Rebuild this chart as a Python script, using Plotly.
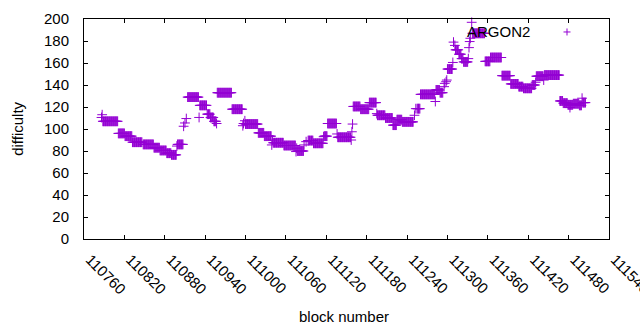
import plotly.graph_objects as go

# Runs of consecutive blocks sharing one difficulty value
run_start = [110788, 110811, 110821, 110832, 110848, 110864, 110873, 110883, 110890, 110899,
             110914, 110932, 110943, 110948, 110953, 110958, 110980, 111000, 111019, 111028,
             111041, 111057, 111077, 111093, 111101, 111117, 111122, 111137, 111160, 111171,
             111184, 111196, 111208, 111219, 111225, 111233, 111255, 111260, 111283, 111289,
             111300, 111312, 111317, 111321, 111324, 111337, 111356, 111364, 111381, 111394,
             111406, 111413, 111426, 111432, 111444, 111467, 111472, 111479, 111487, 111496,
             111501]
run_end = [110810, 110820, 110831, 110845, 110863, 110872, 110882, 110889, 110897, 110907,
           110930, 110942, 110947, 110952, 110956, 110979, 110995, 111018, 111027, 111038,
           111056, 111074, 111086, 111100, 111115, 111121, 111135, 111156, 111170, 111183,
           111194, 111207, 111218, 111224, 111232, 111249, 111259, 111281, 111288, 111293,
           111307, 111316, 111320, 111323, 111330, 111355, 111363, 111380, 111393, 111405,
           111412, 111425, 111430, 111442, 111466, 111471, 111478, 111486, 111495, 111499,
           111505]
run_value = [107, 96, 93.5, 88, 86, 83, 80.5, 78, 76.5, 86,
             129, 121.5, 113.5, 110.5, 107, 133, 118, 104.5, 96.5, 93.5,
             87.5, 85, 80, 89.5, 87, 93.5, 105, 92.5, 120.5, 118,
             124, 112.5, 110, 103.5, 108.5, 106.5, 118.5, 131.5, 135.5, 133,
             154.5, 172, 168, 164, 161, 187, 161.5, 165, 148.5, 141,
             138.5, 137, 140, 148, 149, 125.5, 123.5, 122, 123, 121.5,
             124]

# Isolated blocks
pt_block = [110786, 110787, 110846, 110898, 110908, 110910, 110912, 110931, 110957, 110996,
            110997, 110999, 111039, 111040, 111075, 111076, 111087, 111090, 111116, 111136,
            111157, 111158, 111159, 111195, 111251, 111253, 111282, 111295, 111296, 111298,
            111299, 111308, 111309, 111311, 111331, 111332, 111333, 111334, 111336, 111431,
            111443, 111482, 111500]
pt_value = [110.5, 113, 88, 84.5, 102.5, 105.5, 109.5, 110.5, 105, 103,
            105, 107.5, 85.5, 90, 79.5, 82.5, 85.5, 88.5, 93, 95.5,
            90, 97.5, 104.5, 114, 112.5, 118.5, 125, 138.5, 141.5, 143,
            144.5, 160.5, 179, 176, 164, 174, 179.5, 182.5, 197, 142.5,
            144.5, 119.5, 128]

x_ticks = list(range(110760, 111541, 60))
y_ticks = list(range(0, 201, 20))

blocks, diffs = [], []
for s, e, v in zip(run_start, run_end, run_value):
    for b in range(s, e + 1):
        blocks.append(b)
        diffs.append(v)
blocks += pt_block
diffs += pt_value
order = sorted(range(len(blocks)), key=lambda i: blocks[i])
blocks = [blocks[i] for i in order]
diffs = [diffs[i] for i in order]

COLOR = "#9400D3"
FONT = "Liberation Sans"

fig = go.Figure()
fig.add_trace(go.Scatter(
    x=blocks, y=diffs, mode="markers", name="ARGON2",
    marker=dict(symbol="cross-thin", size=7, color=COLOR,
                line=dict(color=COLOR, width=1)),
    showlegend=False, cliponaxis=False,
))

axis_common = dict(showline=True, linecolor="black", linewidth=1, mirror="ticks",
                   ticks="inside", ticklen=4, tickcolor="black", tickwidth=1,
                   showgrid=False, zeroline=False, automargin=False,
                   ticklabeloverflow="allow",
                   tickfont=dict(family=FONT, size=15, color="black"))

fig.update_xaxes(range=[110760, 111540.01], tickmode="array", tickvals=x_ticks,
                 ticktext=[str(t) for t in x_ticks], tickangle=45,
                 ticklabelstandoff=5, ticklabelshift=6, **axis_common)
fig.update_yaxes(range=[0, 200.01], tickmode="array", tickvals=y_ticks,
                 ticktext=[str(t) for t in y_ticks], ticklabelstandoff=11,
                 **axis_common)

# key: text then sample symbol (gnuplot style)
fig.add_annotation(x=0.853, y=0.941, xref="paper", yref="paper", text="ARGON2",
                   showarrow=False, xanchor="right", yanchor="middle",
                   font=dict(family=FONT, size=15, color="black"))
kx, ky, hx, hy = 0.92, 0.941, 3.5 / 525, 3.5 / 220
fig.add_shape(type="line", xref="paper", yref="paper", x0=kx - hx, x1=kx + hx, y0=ky, y1=ky,
              line=dict(color=COLOR, width=1))
fig.add_shape(type="line", xref="paper", yref="paper", x0=kx, x1=kx, y0=ky - hy, y1=ky + hy,
              line=dict(color=COLOR, width=1))

fig.add_annotation(x=0.495, y=-0.35, xref="paper", yref="paper", text="block number",
                   showarrow=False, xanchor="center", yanchor="middle",
                   font=dict(family=FONT, size=15, color="black"))
fig.add_annotation(x=-0.128, y=0.5, xref="paper", yref="paper", text="difficulty",
                   showarrow=False, xanchor="center", yanchor="middle", textangle=-90,
                   font=dict(family=FONT, size=15, color="black"))

fig.update_layout(width=640, height=330, margin=dict(l=84, r=31, t=19, b=91),
                  paper_bgcolor="white", plot_bgcolor="white", showlegend=False)

fig.write_html("out.html", config={"displayModeBar": False},
               post_script="document.body.style.margin='0px';document.body.style.overflow='hidden';")
